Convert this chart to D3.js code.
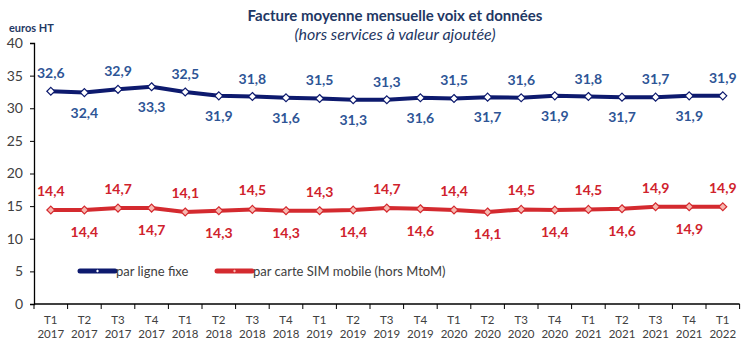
<!DOCTYPE html>
<html>
<head>
<meta charset="utf-8">
<script src="https://cdn.jsdelivr.net/npm/d3@7"></script>
<style>
  body { margin: 0; background: #fff; }
  svg text { font-family: Lato, "Open Sans", sans-serif; }
</style>
</head>
<body>
<script>
// chart size
const width = 751;
const height = 351;

// data
const quarters = ["T1","T2","T3","T4","T1","T2","T3","T4","T1","T2","T3","T4","T1","T2","T3","T4","T1","T2","T3","T4","T1"];
const years = ["2017","2017","2017","2017","2018","2018","2018","2018","2019","2019","2019","2019","2020","2020","2020","2020","2021","2021","2021","2021","2022"];
const fixe = [32.6, 32.4, 32.9, 33.3, 32.5, 31.9, 31.8, 31.6, 31.5, 31.3, 31.3, 31.6, 31.5, 31.7, 31.6, 31.9, 31.8, 31.7, 31.7, 31.9, 31.9];
const mobile = [14.4, 14.4, 14.7, 14.7, 14.1, 14.3, 14.5, 14.3, 14.3, 14.4, 14.7, 14.6, 14.4, 14.1, 14.5, 14.4, 14.5, 14.6, 14.9, 14.9, 14.9];
const yTicks = [0, 5, 10, 15, 20, 25, 30, 35, 40];

const svg = d3.select('body')
  .append('svg')
  .attr('width', width)
  .attr('height', height);

const keys = d3.range(fixe.length);

// scales
const x = d3.scaleBand()
  .domain(keys)
  .range([34, 739.6]);

const y = d3.scaleLinear()
  .domain([0, 40])
  .range([304, 43]);

const fmt = v => d3.format('.1f')(v).replace('.', ',');

// title
svg.append('text')
  .attr('x', 395).attr('y', 21)
  .attr('text-anchor', 'middle')
  .attr('font-size', 15).attr('font-weight', 'bold')
  .attr('fill', '#1f3864')
  .text('Facture moyenne mensuelle voix et données');

svg.append('text')
  .attr('x', 395).attr('y', 40)
  .attr('text-anchor', 'middle')
  .attr('font-size', 16).attr('font-style', 'italic')
  .attr('fill', '#1f3864')
  .text('(hors services à valeur ajoutée)');

svg.append('text')
  .attr('x', 9).attr('y', 32)
  .attr('font-size', 11).attr('font-weight', 'bold')
  .attr('fill', '#1f3864')
  .text('euros HT');

// y axis
const yAxis = svg.append('g')
  .attr('transform', 'translate(34,0)')
  .call(d3.axisLeft(y).tickValues(yTicks).tickSize(4).tickPadding(7));
yAxis.selectAll('text').attr('font-size', 14).attr('fill', '#404040');
yAxis.select('.domain').attr('stroke', '#000').attr('stroke-width', 1.3);
yAxis.selectAll('line').attr('stroke', '#000');

// x axis
const xAxis = svg.append('g')
  .attr('transform', 'translate(0,304)');
xAxis.append('line')
  .attr('x1', x.range()[0]).attr('x2', x.range()[1])
  .attr('stroke', '#000').attr('stroke-width', 1.3);
xAxis.selectAll('.tk')
  .data(keys.concat([keys.length]))
  .enter().append('line')
  .attr('x1', d => x.range()[0] + d * x.step())
  .attr('x2', d => x.range()[0] + d * x.step())
  .attr('y1', 0).attr('y2', 5)
  .attr('stroke', '#000');
const xl = xAxis.selectAll('.xl')
  .data(keys)
  .enter().append('text')
  .attr('text-anchor', 'middle')
  .attr('font-size', 11.5)
  .attr('fill', '#404040');
xl.append('tspan')
  .attr('x', d => x(d) + x.bandwidth() / 2)
  .attr('y', 20)
  .text(d => quarters[d]);
xl.append('tspan')
  .attr('x', d => x(d) + x.bandwidth() / 2)
  .attr('y', 34)
  .text(d => years[d]);

const cx = i => x(i) + x.bandwidth() / 2;

function drawSeries(values, color, fill, labelColor, upOff, downOff) {
  const line = d3.line()
    .x((d, i) => cx(i))
    .y(d => y(d));
  svg.append('path')
    .datum(values)
    .attr('d', line)
    .attr('fill', 'none')
    .attr('stroke', color)
    .attr('stroke-width', 4)
    .attr('stroke-linejoin', 'round');
  svg.selectAll(null)
    .data(values)
    .enter().append('path')
    .attr('d', d3.symbol(d3.symbolDiamond2, 40))
    .attr('transform', (d, i) => `translate(${cx(i)},${y(d)})`)
    .attr('fill', fill)
    .attr('stroke', color)
    .attr('stroke-width', 1.2);
  svg.selectAll(null)
    .data(values)
    .enter().append('text')
    .attr('x', (d, i) => cx(i))
    .attr('y', (d, i) => y(d) + (i % 2 === 0 ? upOff : downOff))
    .attr('text-anchor', 'middle')
    .attr('font-size', 14).attr('font-weight', 'bold')
    .attr('fill', labelColor)
    .text(d => fmt(d));
}

drawSeries(fixe, '#0d1a6e', '#ffffff', '#2e5596', -13, 25);
drawSeries(mobile, '#d42a2f', '#f7b8b0', '#d0222c', -14, 27);

// legend
const legend = [
  { label: 'par ligne fixe', color: '#0d1a6e', fill: '#ffffff', x: 80 },
  { label: 'par carte SIM mobile (hors MtoM)', color: '#d42a2f', fill: '#f7b8b0', x: 217 }
];
const lg = svg.selectAll('.lg')
  .data(legend)
  .enter().append('g')
  .attr('transform', d => `translate(${d.x},271)`);
lg.append('line')
  .attr('x1', 0).attr('x2', 35)
  .attr('stroke', d => d.color)
  .attr('stroke-width', 5)
  .attr('stroke-linecap', 'round');
lg.append('path')
  .attr('d', d3.symbol(d3.symbolDiamond2, 6))
  .attr('transform', 'translate(17.5,0)')
  .attr('fill', d => d.fill);
lg.append('text')
  .attr('x', 36).attr('y', 4.5)
  .attr('font-size', 13)
  .attr('fill', '#404040')
  .text(d => d.label);
</script>
</body>
</html>
